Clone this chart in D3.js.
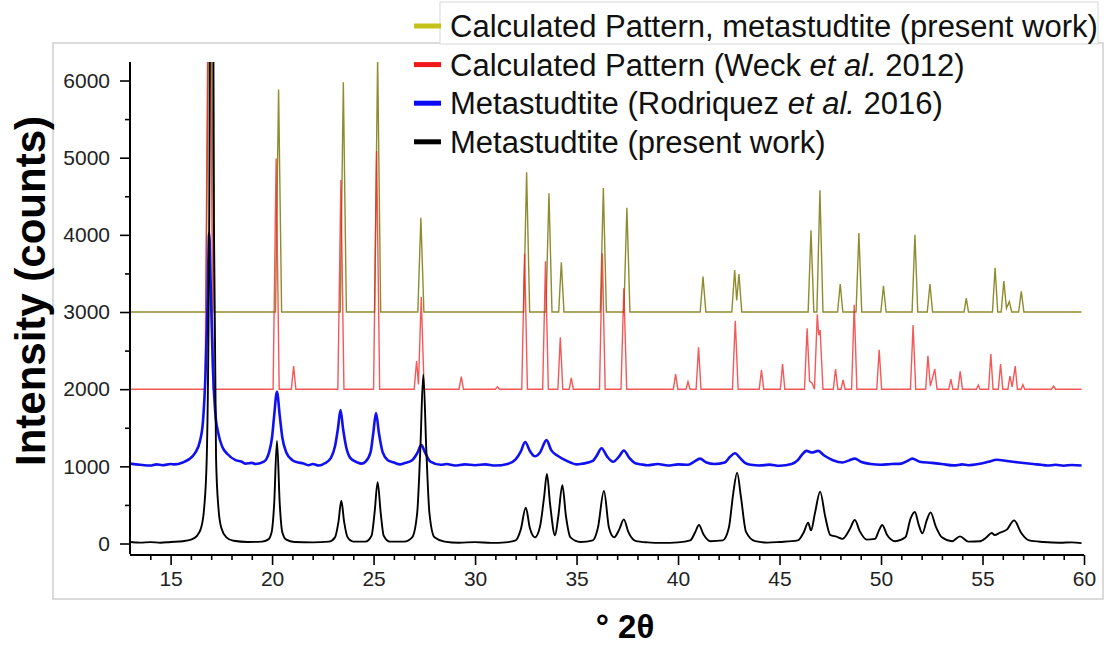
<!DOCTYPE html>
<html>
<head>
<meta charset="utf-8">
<script src="https://cdn.jsdelivr.net/npm/d3@7"></script>
<style>
  body { margin: 0; background: #fff; }
  #chart { width: 1112px; height: 646px; }
  text { font-family: "Liberation Sans", Arial, sans-serif; }
</style>
</head>
<body>
<div id="chart"></div>
<script>
// 2θ / counts pairs (patterns are offset by 1000 steps)
const calcPresent = [
  [13.0, 3000], [16.74, 3000], [16.94, 9000], [17.14, 3000], [20.17, 3000], [20.32, 5885], [20.47, 3000],
  [23.36, 3000], [23.51, 5976], [23.66, 3000], [25.05, 3000], [25.2, 6300], [25.35, 3000],
  [27.18, 3000], [27.33, 4222], [27.48, 3000], [32.39, 3000], [32.54, 4810], [32.69, 3000],
  [33.49, 3000], [33.64, 4538], [33.79, 3000], [34.12, 3000], [34.25, 3644], [34.38, 3000],
  [36.17, 3000], [36.32, 4607], [36.47, 3000], [37.33, 3000], [37.48, 4352], [37.63, 3000],
  [41.09, 3000], [41.23, 3458], [41.37, 3000], [42.65, 3000], [42.79, 3544], [42.89, 3150],
  [43.0, 3492], [43.14, 3000], [46.41, 3000], [46.55, 4058], [46.69, 3000], [46.84, 3000],
  [46.99, 4577], [47.14, 3000], [47.86, 3000], [47.99, 3363], [48.12, 3000], [48.77, 3000],
  [48.91, 4024], [49.05, 3000], [49.99, 3000], [50.12, 3341], [50.25, 3000], [51.53, 3000],
  [51.67, 4002], [51.81, 3000], [52.28, 3000], [52.41, 3363], [52.54, 3000], [54.09, 3000],
  [54.2, 3181], [54.31, 3000], [55.49, 3000], [55.62, 3574], [55.75, 3000], [55.92, 3000],
  [56.05, 3401], [56.18, 3050], [56.32, 3134], [56.44, 3000], [56.78, 3000], [56.91, 3268],
  [57.04, 3000], [59.88, 3000]
];

const calcWeck = [
  [13.0, 2000], [16.7, 2000], [16.9, 9000], [17.1, 2000], [20.05, 2000], [20.2, 4990], [20.35, 2000],
  [20.95, 2000], [21.06, 2300], [21.17, 2000], [23.24, 2000], [23.39, 4710], [23.54, 2000],
  [25.0, 2000], [25.15, 5086], [25.3, 2000], [27.0, 2000], [27.12, 2365], [27.21, 2060],
  [27.35, 3194], [27.49, 2000], [29.21, 2000], [29.32, 2162], [29.43, 2000], [31.0, 2000],
  [31.1, 2030], [31.2, 2000], [32.3, 2000], [32.44, 3755], [32.58, 2000], [33.33, 2000],
  [33.47, 3657], [33.61, 2000], [34.08, 2000], [34.2, 2672], [34.32, 2000], [34.64, 2000],
  [34.74, 2145], [34.84, 2000], [36.13, 2000], [36.27, 3760], [36.41, 2000], [37.19, 2000],
  [37.33, 3307], [37.47, 2000], [39.77, 2000], [39.88, 2196], [39.99, 2000], [40.39, 2000],
  [40.49, 2097], [40.59, 2000], [40.89, 2000], [41.01, 2542], [41.13, 2000], [42.68, 2000],
  [42.82, 2887], [42.96, 2000], [44.0, 2000], [44.11, 2248], [44.22, 2000], [45.04, 2000],
  [45.15, 2326], [45.26, 2000], [46.23, 2000], [46.36, 2788], [46.48, 2100], [46.6, 2080],
  [46.72, 2000], [46.86, 2970], [46.93, 2700], [47.0, 2766], [47.14, 2000], [47.65, 2000],
  [47.76, 2261], [47.87, 2000], [48.03, 2000], [48.13, 2119], [48.23, 2000], [48.55, 2000],
  [48.68, 3095], [48.81, 2000], [49.79, 2000], [49.91, 2512], [50.03, 2000], [51.45, 2000],
  [51.58, 2831], [51.71, 2000], [52.2, 2000], [52.31, 2434], [52.43, 2040], [52.65, 2261],
  [52.76, 2000], [53.34, 2000], [53.44, 2131], [53.54, 2000], [53.79, 2000], [53.9, 2231],
  [54.01, 2000], [54.7, 2000], [54.79, 2054], [54.88, 2000], [55.3, 2000], [55.41, 2456],
  [55.52, 2000], [55.78, 2000], [55.89, 2326], [56.0, 2000], [56.25, 2000], [56.35, 2170],
  [56.46, 2030], [56.61, 2300], [56.72, 2000], [56.9, 2000], [56.99, 2058], [57.08, 2000],
  [58.4, 2000], [58.5, 2041], [58.6, 2000], [59.88, 2000]
];

const rodriquez = [
  [13.0, 1035], [13.5, 1020], [14.0, 1010], [14.3, 1025], [14.6, 1015], [15.0, 1030], [15.2, 1025],
  [15.6, 1050], [15.9, 1090], [16.2, 1170], [16.45, 1330], [16.6, 1600], [16.72, 2200],
  [16.82, 3100], [16.9, 4020], [16.98, 3300], [17.08, 2300], [17.2, 1700], [17.35, 1430],
  [17.55, 1250], [17.8, 1160], [18.2, 1080], [18.5, 1060], [18.7, 1035], [19.0, 1045],
  [19.2, 1030], [19.6, 1060], [19.85, 1180], [20.0, 1380], [20.1, 1650], [20.24, 1965],
  [20.38, 1650], [20.5, 1380], [20.7, 1180], [21.0, 1080], [21.3, 1050], [21.5, 1040],
  [21.8, 1015], [22.0, 1030], [22.3, 1010], [22.6, 1040], [22.9, 1110], [23.1, 1260],
  [23.25, 1500], [23.37, 1730], [23.5, 1480], [23.65, 1250], [23.85, 1110], [24.2, 1050],
  [24.4, 1035], [24.6, 1060], [24.85, 1180], [24.98, 1420], [25.12, 1690], [25.27, 1420],
  [25.45, 1180], [25.7, 1080], [26.0, 1050], [26.3, 1025], [26.5, 1040], [26.9, 1080],
  [27.15, 1170], [27.35, 1275], [27.55, 1170], [27.8, 1060], [28.3, 1020], [28.6, 1030],
  [29.0, 1010], [29.5, 1025], [30.0, 1015], [30.5, 1025], [31.0, 1010], [31.6, 1030],
  [32.0, 1090], [32.25, 1190], [32.47, 1315], [32.7, 1200], [32.95, 1130], [33.2, 1180],
  [33.52, 1340], [33.75, 1210], [34.05, 1140], [34.3, 1100], [34.7, 1050], [35.0, 1025],
  [35.3, 1035], [35.8, 1070], [36.0, 1140], [36.23, 1235], [36.5, 1130], [36.8, 1060],
  [37.1, 1130], [37.33, 1205], [37.6, 1110], [37.9, 1040], [38.2, 1025], [38.5, 1015],
  [39.0, 1030], [39.5, 1010], [40.0, 1025], [40.5, 1020], [40.8, 1060], [41.08, 1100],
  [41.4, 1050], [41.8, 1030], [42.3, 1050], [42.55, 1120], [42.8, 1170], [43.05, 1110],
  [43.3, 1045], [43.6, 1020], [44.0, 1010], [44.5, 1022], [45.0, 1008], [45.6, 1030],
  [45.9, 1080], [46.1, 1150], [46.33, 1200], [46.6, 1180], [46.9, 1200], [47.2, 1140],
  [47.63, 1080], [48.1, 1050], [48.45, 1080], [48.71, 1100], [49.0, 1060], [49.5, 1030],
  [50.0, 1020], [50.5, 1030], [51.0, 1035], [51.3, 1070], [51.54, 1100], [51.9, 1060],
  [52.5, 1045], [53.0, 1030], [53.6, 1012], [54.0, 1025], [54.3, 1015], [54.8, 1030],
  [55.3, 1060], [55.7, 1085], [56.2, 1070], [56.8, 1050], [57.5, 1030], [57.9, 1020],
  [58.2, 1010], [58.6, 1020], [59.0, 1008], [59.4, 1018], [59.88, 1010]
];

const presentWork = [
  [13.0, 20], [13.5, 12], [14.0, 18], [14.5, 10], [15.0, 20], [15.6, 30], [16.0, 50], [16.3, 100],
  [16.5, 200], [16.65, 450], [16.78, 1100], [16.9, 4000], [17.02, 12000], [17.14, 4000],
  [17.24, 1100], [17.36, 450], [17.5, 200], [17.75, 80], [18.1, 35], [18.8, 20], [19.5, 25],
  [19.8, 50], [19.98, 150], [20.1, 500], [20.24, 1330], [20.38, 500], [20.5, 150], [20.7, 50],
  [21.1, 20], [22.0, 15], [22.8, 25], [23.1, 80], [23.27, 280], [23.41, 555], [23.55, 280],
  [23.72, 80], [24.0, 25], [24.6, 25], [24.9, 100], [25.05, 400], [25.2, 795], [25.35, 400],
  [25.5, 100], [25.8, 25], [26.5, 25], [26.9, 80], [27.15, 400], [27.3, 1200], [27.45, 2190],
  [27.6, 1200], [27.75, 400], [28.0, 80], [28.5, 25], [29.2, 10], [30.0, 18], [30.8, 8],
  [31.5, 15], [32.0, 40], [32.25, 180], [32.5, 465], [32.7, 200], [32.95, 80], [33.2, 220],
  [33.4, 600], [33.54, 900], [33.7, 500], [33.94, 105], [34.1, 350], [34.3, 755], [34.48, 350],
  [34.7, 80], [35.2, 20], [35.8, 40], [36.05, 200], [36.35, 680], [36.6, 200], [36.85, 80],
  [37.1, 180], [37.33, 313], [37.55, 150], [37.9, 35], [38.5, 15], [39.2, 8], [40.0, 15],
  [40.6, 40], [40.85, 150], [41.03, 240], [41.25, 120], [41.6, 30], [42.2, 40], [42.5, 200],
  [42.72, 650], [42.91, 918], [43.1, 600], [43.35, 150], [43.8, 30], [44.4, 12], [45.0, 20],
  [45.9, 40], [46.2, 150], [46.41, 270], [46.55, 170], [46.75, 400], [47.0, 672], [47.25, 350],
  [47.5, 110], [47.81, 88], [48.1, 60], [48.45, 180], [48.71, 304], [48.95, 160], [49.3, 50],
  [49.7, 60], [49.9, 170], [50.06, 240], [50.3, 110], [50.7, 30], [51.2, 80], [51.45, 320],
  [51.67, 408], [51.85, 250], [52.04, 132], [52.25, 300], [52.44, 404], [52.7, 220], [53.0, 80],
  [53.5, 30], [53.89, 93], [54.3, 25], [54.9, 30], [55.2, 80], [55.45, 136], [55.6, 110],
  [55.86, 140], [56.2, 180], [56.56, 300], [56.9, 140], [57.3, 40], [58.0, 20], [58.8, 10],
  [59.4, 15], [59.88, 5]
];

const xTicks = [15, 20, 25, 30, 35, 40, 45, 50, 55, 60];
const yTicks = [0, 1000, 2000, 3000, 4000, 5000, 6000];

const width = 1112, height = 646;

const svg = d3.select("#chart").append("svg")
    .attr("width", width)
    .attr("height", height);

// plot area
const x = d3.scaleLinear().domain([13, 60]).range([130, 1084]);
const y = d3.scaleLinear().domain([-136, 6240]).range([554, 62]);

// light frame round the whole figure
svg.append("rect")
    .attr("x", 53).attr("y", 43)
    .attr("width", 1050).attr("height", 556)
    .attr("fill", "none")
    .attr("stroke", "#cfcfcf")
    .attr("stroke-width", 1.5);

svg.append("clipPath").attr("id", "plot")
  .append("rect")
    .attr("x", 130).attr("y", 62)
    .attr("width", 954).attr("height", 492);

const line = d3.line()
    .x(d => x(d[0]))
    .y(d => y(d[1]));

const smooth = d3.line()
    .x(d => x(d[0]))
    .y(d => y(d[1]))
    .curve(d3.curveMonotoneX);

const g = svg.append("g").attr("clip-path", "url(#plot)");

g.append("path").datum(calcPresent)
    .attr("d", line)
    .attr("fill", "none")
    .attr("stroke", "#8e8c2e")
    .attr("stroke-width", 1.4);

g.append("path").datum(calcWeck)
    .attr("d", line)
    .attr("fill", "none")
    .attr("stroke", "#f02020")
    .attr("stroke-opacity", 0.75)
    .attr("stroke-width", 1.4);

g.append("path").datum(rodriquez)
    .attr("d", smooth)
    .attr("fill", "none")
    .attr("stroke", "#1010f0")
    .attr("stroke-width", 2.6)
    .attr("stroke-linejoin", "round");

g.append("path").datum(presentWork)
    .attr("d", smooth)
    .attr("fill", "none")
    .attr("stroke", "#000")
    .attr("stroke-width", 1.9)
    .attr("stroke-linejoin", "round");

// axes
const xAxis = svg.append("g")
    .attr("transform", "translate(0,555)")
    .call(d3.axisBottom(x).tickValues(xTicks).tickFormat(d3.format("d")).tickSize(10).tickSizeOuter(0));
svg.append("g")
    .attr("transform", "translate(0,555)")
    .call(d3.axisBottom(x).tickValues(d3.range(14, 60, 1).filter(v => v % 5 !== 0)).tickFormat("").tickSize(5).tickSizeOuter(0))
    .call(a => a.select(".domain").remove());

const yAxis = svg.append("g")
    .attr("transform", "translate(130,0)")
    .call(d3.axisLeft(y).tickValues(yTicks).tickFormat(d3.format("d")).tickSize(10).tickSizeOuter(0));
svg.append("g")
    .attr("transform", "translate(130,0)")
    .call(d3.axisLeft(y).tickValues([500, 1500, 2500, 3500, 4500, 5500]).tickFormat("").tickSize(5).tickSizeOuter(0))
    .call(a => a.select(".domain").remove());

svg.selectAll(".domain").attr("stroke", "#000").attr("stroke-width", 2);
svg.selectAll(".tick line").attr("stroke", "#000").attr("stroke-width", 1.6);
xAxis.selectAll(".tick text")
    .attr("font-size", 21).attr("fill", "#222").attr("y", 16);
yAxis.selectAll(".tick text")
    .attr("font-size", 21).attr("fill", "#222").attr("x", -20);
// axis line spans the drawn range only
xAxis.select(".domain").attr("d", `M130,0H${x(60)}`);
yAxis.select(".domain").attr("d", `M0,${y(6240)}V${y(-136)}`);

// axis titles
svg.append("text")
    .attr("transform", "translate(45,291) rotate(-90)")
    .attr("text-anchor", "middle")
    .attr("font-size", 42)
    .attr("font-weight", "bold")
    .text("Intensity (counts)");

svg.append("text")
    .attr("x", 625).attr("y", 638)
    .attr("text-anchor", "middle")
    .attr("font-size", 33)
    .attr("font-weight", "bold")
    .text("° 2θ");

// legend
const legendRows = [
  { color: "#c2c21a", parts: [["Calculated Pattern, metastudtite (present work)", false]] },
  { color: "#f01818", parts: [["Calculated Pattern (Weck ", false], ["et al.", true], [" 2012)", false]] },
  { color: "#0a0af5", parts: [["Metastudtite (Rodriquez ", false], ["et al.", true], [" 2016)", false]] },
  { color: "#000000", parts: [["Metastudtite (present work)", false]] }
];

svg.append("rect")
    .attr("x", 440).attr("y", 2)
    .attr("width", 658).attr("height", 42)
    .attr("fill", "#fff")
    .attr("stroke", "#d8d8d8")
    .attr("stroke-width", 1);

const legend = svg.append("g");
legendRows.forEach((r, i) => {
  const yy = 26 + i * 38.6;
  legend.append("line")
      .attr("x1", 414).attr("x2", 441)
      .attr("y1", yy).attr("y2", yy)
      .attr("stroke", r.color)
      .attr("stroke-width", 5);
  const t = legend.append("text")
      .attr("x", 450).attr("y", yy + 11)
      .attr("font-size", 31)
      .attr("fill", "#111");
  r.parts.forEach(p => {
    t.append("tspan")
        .attr("font-style", p[1] ? "italic" : "normal")
        .text(p[0]);
  });
});
</script>
</body>
</html>
